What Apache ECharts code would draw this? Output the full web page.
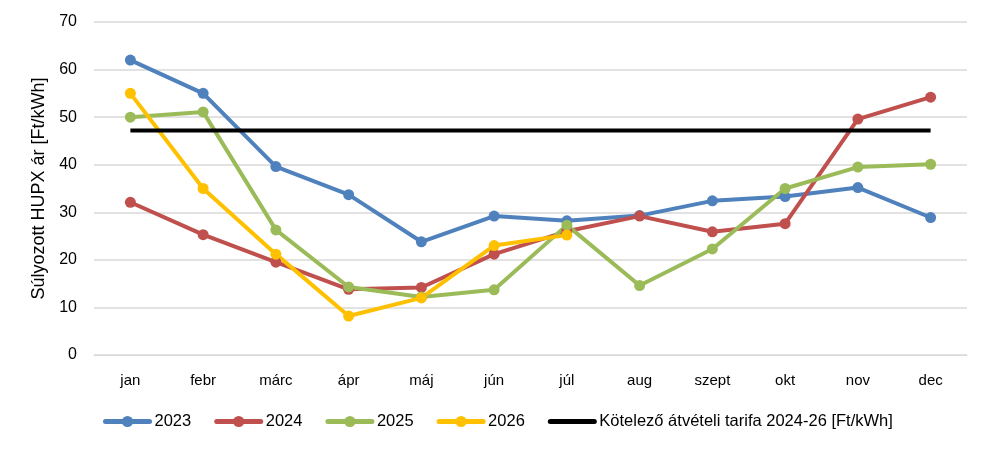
<!DOCTYPE html>
<html>
<head>
<meta charset="utf-8">
<script src="https://cdn.jsdelivr.net/npm/echarts@6/dist/echarts.min.js"></script>
<style>
  html, body { margin: 0; padding: 0; background: #fff; }
  #chart { width: 992px; height: 451px; }
</style>
</head>
<body>
<div id="chart"></div>
<script>
// data
var months = ['jan', 'febr', 'márc', 'ápr', 'máj', 'jún', 'júl', 'aug', 'szept', 'okt', 'nov', 'dec'];
var y2023 = [62, 55, 39.6, 33.7, 23.8, 29.2, 28.2, 29.3, 32.4, 33.3, 35.2, 28.9];
var y2024 = [32.1, 25.3, 19.5, 13.8, 14.2, 21.2, 26, 29.2, 25.9, 27.6, 49.6, 54.2];
var y2025 = [50, 51.1, 26.3, 14.3, 12.2, 13.7, 27.3, 14.6, 22.3, 35, 39.5, 40.1];
var y2026 = [55, 35, 21.2, 8.2, 12, 23, 25.2];
var tariff = [47.2, 47.2, 47.2, 47.2, 47.2, 47.2, 47.2, 47.2, 47.2, 47.2, 47.2, 47.2];
var tariffName = 'Kötelező átvételi tarifa 2024-26 [Ft/kWh]';

var font = 'Liberation Sans, Arial, sans-serif';

function lineSeries(name, data, color) {
  return {
    name: name,
    type: 'line',
    data: data,
    symbol: 'circle',
    symbolSize: 11,
    lineStyle: { width: 4, color: color },
    itemStyle: { color: color },
    emphasis: { disabled: true }
  };
}

var chart = echarts.init(document.getElementById('chart'));
chart.setOption({
  animation: false,
  grid: { left: 94, right: 25, top: 22, bottom: 96 },
  legend: {
    bottom: 16,
    left: 98,
    itemWidth: 44,
    itemHeight: 14,
    itemGap: 23,
    lineStyle: { width: 5, cap: 'round' },
    textStyle: { fontFamily: font, fontSize: 16.5, color: '#000' },
    data: ['2023', '2024', '2025', '2026',
      { name: tariffName, itemStyle: { opacity: 0 }, lineStyle: { color: '#000', width: 5 } }]
  },
  xAxis: {
    type: 'category',
    data: months,
    boundaryGap: true,
    axisLine: { lineStyle: { color: '#d9d9d9' } },
    axisTick: { show: false },
    axisLabel: { fontFamily: font, fontSize: 15, color: '#000', margin: 18 }
  },
  yAxis: {
    type: 'value',
    min: 0,
    max: 70,
    interval: 10,
    name: 'Súlyozott HUPX ár [Ft/kWh]',
    nameLocation: 'middle',
    nameGap: 46,
    nameTextStyle: { fontFamily: font, fontSize: 18, color: '#000' },
    axisLine: { show: false },
    axisTick: { show: false },
    axisLabel: { fontFamily: font, fontSize: 16, color: '#000', margin: 17 },
    splitLine: { lineStyle: { color: '#d9d9d9', width: 1.5 } }
  },
  series: [
    lineSeries('2023', y2023, '#4f81bd'),
    lineSeries('2024', y2024, '#c0504d'),
    lineSeries('2025', y2025, '#9bbb59'),
    lineSeries('2026', y2026, '#ffc000'),
    {
      name: tariffName,
      type: 'line',
      data: tariff,
      symbol: 'none',
      lineStyle: { width: 4, color: '#000' },
      itemStyle: { color: '#000' },
      emphasis: { disabled: true }
    }
  ]
});
</script>
</body>
</html>
